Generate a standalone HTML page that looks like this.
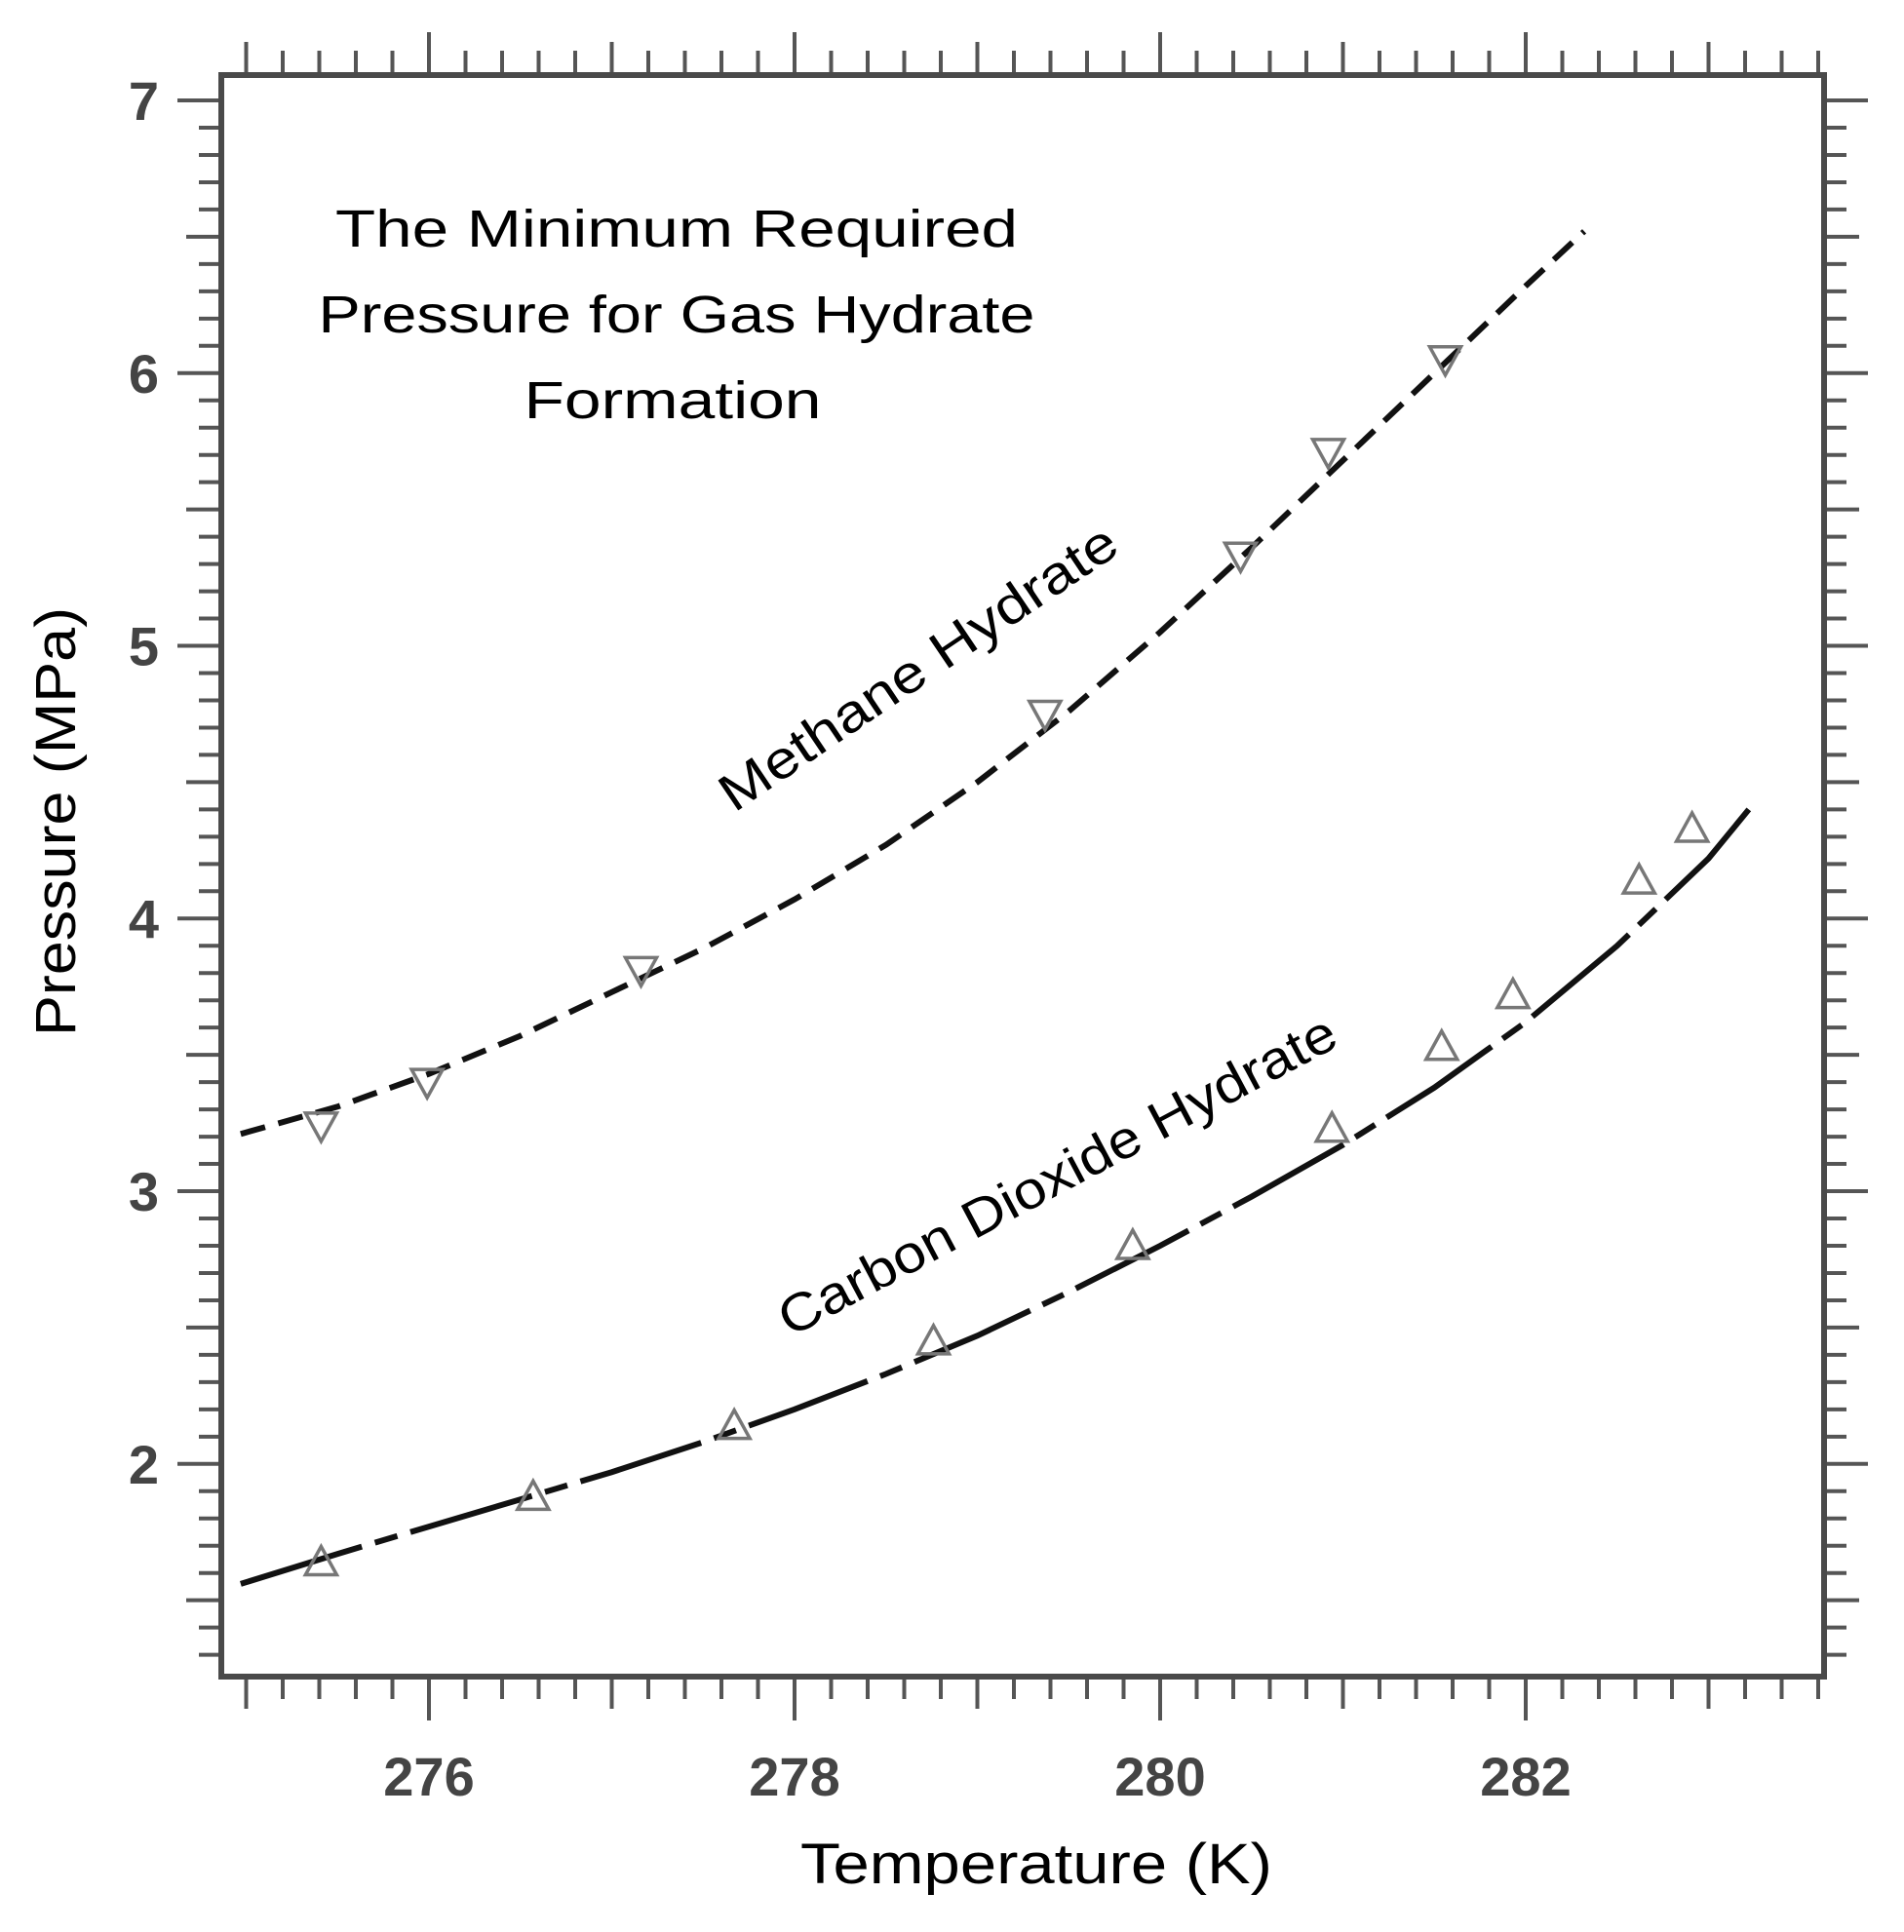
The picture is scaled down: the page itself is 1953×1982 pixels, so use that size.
<!DOCTYPE html>
<html><head><meta charset="utf-8"><style>
html,body{margin:0;padding:0;background:#fff;}
svg{display:block;}
</style></head><body>
<svg id="chart" width="1953" height="1982" viewBox="0 0 1953 1982" xmlns="http://www.w3.org/2000/svg">
<rect width="1953" height="1982" fill="#fff"/>
<g id="ticks"></g>
<g id="series"></g>
<rect x="227" y="77" width="1644" height="1643" fill="none" stroke="#4a4a4a" stroke-width="6"/>
<g font-family="'Liberation Sans', sans-serif" font-size="54" fill="#000" text-anchor="middle">
<text x="694" y="253" textLength="700" lengthAdjust="spacingAndGlyphs">The Minimum Required</text>
<text x="694" y="341" textLength="735" lengthAdjust="spacingAndGlyphs">Pressure for Gas Hydrate</text>
<text x="690" y="429" textLength="305" lengthAdjust="spacingAndGlyphs">Formation</text>
</g>
<text font-family="'Liberation Sans', sans-serif" font-size="54" text-anchor="middle" transform="translate(952,700) rotate(-34)" textLength="480" lengthAdjust="spacingAndGlyphs">Methane Hydrate</text>
<text font-family="'Liberation Sans', sans-serif" font-size="54" text-anchor="middle" transform="translate(1093,1222) rotate(-28)" textLength="640" lengthAdjust="spacingAndGlyphs">Carbon Dioxide Hydrate</text>
<text font-family="'Liberation Sans', sans-serif" font-size="58" text-anchor="middle" transform="translate(77,843) rotate(-90)" textLength="440" lengthAdjust="spacingAndGlyphs">Pressure (MPa)</text>
<text font-family="'Liberation Sans', sans-serif" font-size="58" text-anchor="middle" x="1063" y="1932" textLength="484" lengthAdjust="spacingAndGlyphs">Temperature (K)</text>
</svg>
<script>
const methaneT = [275.41, 275.99, 277.16, 279.37, 280.44, 280.92, 281.56];
const methaneP = [3.24, 3.40, 3.81, 4.75, 5.33, 5.71, 6.05];
const methaneFitT = [274.97, 275.5, 276, 276.5, 277, 277.5, 278, 278.5, 279, 279.5, 280, 280.5, 281, 281.5, 282, 282.32];
const methaneFitP = [3.21, 3.31, 3.43, 3.57, 3.73, 3.89, 4.07, 4.27, 4.50, 4.76, 5.05, 5.36, 5.68, 6.00, 6.32, 6.52];
const co2T = [275.41, 276.57, 277.67, 278.76, 279.85, 280.94, 281.54, 281.93, 282.62, 282.91];
const co2P = [1.64, 1.88, 2.14, 2.45, 2.80, 3.23, 3.53, 3.72, 4.14, 4.33];
const co2FitT = [274.97, 275.5, 276, 276.5, 277, 277.5, 278, 278.5, 279, 279.5, 280, 280.5, 281, 281.5, 282, 282.5, 283, 283.22];
const co2FitP = [1.56, 1.67, 1.77, 1.87, 1.97, 2.08, 2.20, 2.33, 2.47, 2.63, 2.80, 2.98, 3.17, 3.38, 3.62, 3.90, 4.22, 4.40];
const xTickLabels = [276, 278, 280, 282];
const yTickLabels = [2, 3, 4, 5, 6, 7];

const NS = "http://www.w3.org/2000/svg";
const X0 = 227, X1 = 1871, Y0 = 77, Y1 = 1720;
const xMin = 274.864, xMax = 283.632, yMin = 1.22, yMax = 7.093;
function sx(t){ return X0 + (t - xMin) / (xMax - xMin) * (X1 - X0); }
function sy(p){ return Y1 - (p - yMin) / (yMax - yMin) * (Y1 - Y0); }
function mk(tag, attrs, parent){ const e = document.createElementNS(NS, tag); for (const k in attrs) e.setAttribute(k, attrs[k]); parent.appendChild(e); return e; }

const ticks = document.getElementById('ticks');
const series = document.getElementById('series');
const svg = document.getElementById('chart');

for (let i = Math.ceil(xMin * 5); i <= Math.floor(xMax * 5); i++) {
  const t = i / 5, x = sx(t);
  const isInt = i % 5 === 0;
  const even = isInt && Math.round(t) % 2 === 0;
  const lenB = even ? 45 : (isInt ? 33 : 23);
  const lenT = even ? 44 : (isInt ? 34 : 25);
  const a = mk('line', {x1:x, x2:x, y1:Y1, y2:Y1 + lenB, stroke:'#555', 'stroke-width':4}, ticks);
  
  
  const b = mk('line', {x1:x, x2:x, y1:Y0, y2:Y0 - lenT, stroke:'#555', 'stroke-width':4}, ticks);
  
  
}
for (let i = Math.ceil(yMin * 10); i <= Math.floor(yMax * 10); i++) {
  const p = i / 10, y = sy(p);
  const isInt = i % 10 === 0, isHalf = i % 5 === 0;
  const len = isInt ? 45 : (isHalf ? 36 : 23);
  const a = mk('line', {x1:X0 - len, x2:X0, y1:y, y2:y, stroke:'#555', 'stroke-width':4}, ticks);
  
  
  const b = mk('line', {x1:X1, x2:X1 + len, y1:y, y2:y, stroke:'#555', 'stroke-width':4}, ticks);
  
  
}
xTickLabels.forEach(v => {
  const t = mk('text', {x:sx(v), y:1842, 'text-anchor':'middle', 'font-family':"'Liberation Sans', sans-serif", 'font-size':56, 'font-weight':'bold', fill:'#444'}, svg);
  
  
  t.textContent = v;
});
yTickLabels.forEach(v => {
  const t = mk('text', {x:163, y:sy(v) + 20, 'text-anchor':'end', 'font-family':"'Liberation Sans', sans-serif", 'font-size':56, 'font-weight':'bold', fill:'#444'}, svg);
  
  
  t.textContent = v;
});

function pathOf(T, P){ return T.map((t, i) => (i ? 'L' : 'M') + sx(t).toFixed(1) + ',' + sy(P[i]).toFixed(1)).join(' '); }

const mLine = mk('path', {d:pathOf(methaneFitT, methaneFitP), fill:'none', stroke:'#111', 'stroke-width':6, 'stroke-dasharray':'26 14'}, series);


const cLine = mk('path', {d:pathOf(co2FitT, co2FitP), fill:'none', stroke:'#111', 'stroke-width':6, 'stroke-dasharray':'130 14 24 14'}, series);



methaneT.forEach((t, i) => {
  const x = sx(t), y = sy(methaneP[i]);
  const m = mk('path', {d:`M${x-16},${y-13} L${x+16},${y-13} L${x},${y+16} Z`, fill:'none', stroke:'#777', 'stroke-width':3.5}, series);
  
  
});
co2T.forEach((t, i) => {
  const x = sx(t), y = sy(co2P[i]);
  const m = mk('path', {d:`M${x-16},${y+13} L${x+16},${y+13} L${x},${y-16} Z`, fill:'none', stroke:'#777', 'stroke-width':3.5}, series);
  
  
});
</script>
</body></html>
